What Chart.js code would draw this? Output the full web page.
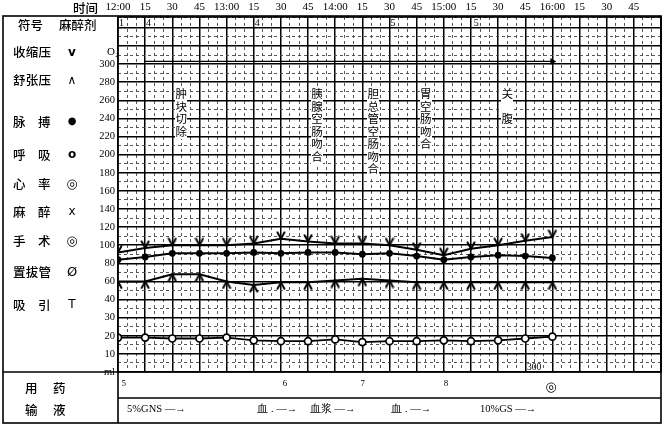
<!DOCTYPE html>
<html lang="zh">
<head>
<meta charset="utf-8">
<title>麻醉记录单</title>
<script src="https://cdn.jsdelivr.net/npm/chart.js@4.4.1/dist/chart.umd.min.js"></script>
<style>
  html, body { margin: 0; padding: 0; background: #fff; }
  #wrap { position: relative; width: 668px; height: 428px; overflow: hidden; }
  #chart { position: absolute; left: 0; top: 0; }
  .t { position: absolute; white-space: nowrap; line-height: 1; color: #000; }
  .cn { font-family: "Noto Sans CJK SC", sans-serif; font-size: 12.5px; font-weight: 500; }
  .num { font-family: "Liberation Serif", "DejaVu Serif", serif; font-size: 10px; }
  .sym { font-family: "DejaVu Sans", sans-serif; font-size: 12px; transform: translateX(-50%); }
  .ev { position: absolute; writing-mode: vertical-rl; text-orientation: upright;
        font-family: "Noto Sans CJK SC", sans-serif; font-size: 11.5px; line-height: 12px;
        letter-spacing: 1px; background: #fff; color: #000; padding: 1px 0; transform: translateX(-50%); }
</style>
</head>
<body>
<div id="wrap">
  <canvas id="chart" width="668" height="428"></canvas>

  <span class="t cn" style="left:73px;top:2px">时间</span>

  <span class="t cn" style="left:18px;top:19px">符号</span>
  <span class="t cn" style="left:59px;top:19px">麻醉剂</span>
  <span class="t cn" style="left:13px;top:46px;letter-spacing:0.3px">收缩压</span>
  <span class="t sym" style="left:72px;top:46px;font-weight:bold">v</span>
  <span class="t cn" style="left:13px;top:74px;letter-spacing:0.3px">舒张压</span>
  <span class="t sym" style="left:72px;top:74px">∧</span>
  <span class="t cn" style="left:13px;top:116px">脉</span>
  <span class="t cn" style="left:38px;top:116px">搏</span>
  <span class="t sym" style="left:72px;top:116px;font-size:10px">●</span>
  <span class="t cn" style="left:13px;top:149px">呼</span>
  <span class="t cn" style="left:38px;top:149px">吸</span>
  <span class="t sym" style="left:72px;top:148px;font-weight:bold">o</span>
  <span class="t cn" style="left:13px;top:178px">心</span>
  <span class="t cn" style="left:38px;top:178px">率</span>
  <span class="t sym" style="left:72px;top:177px;font-size:13px;font-weight:bold">◎</span>
  <span class="t cn" style="left:13px;top:206px">麻</span>
  <span class="t cn" style="left:38px;top:206px">醉</span>
  <span class="t sym" style="left:72px;top:205px">x</span>
  <span class="t cn" style="left:13px;top:235px">手</span>
  <span class="t cn" style="left:38px;top:235px">术</span>
  <span class="t sym" style="left:72px;top:234px;font-size:13px;font-weight:bold">◎</span>
  <span class="t cn" style="left:13px;top:266px;letter-spacing:0.3px">置拔管</span>
  <span class="t sym" style="left:72px;top:265px;font-size:13px">Ø</span>
  <span class="t cn" style="left:13px;top:299px">吸</span>
  <span class="t cn" style="left:38px;top:299px">引</span>
  <span class="t sym" style="left:72px;top:298px">T</span>

  <span class="t num" style="left:107px;top:46px;font-size:11px">O₂</span>

  <span class="t cn" style="left:25px;top:382px">用</span>
  <span class="t cn" style="left:53px;top:382px">药</span>
  <span class="t cn" style="left:25px;top:404px">输</span>
  <span class="t cn" style="left:53px;top:404px">液</span>
</div>

<script>
// minutes after 12:00, one reading every 15 min
const minutes = [0, 15, 30, 45, 60, 75, 90, 105, 120, 135, 150, 165, 180, 195, 210, 225, 240];
const systolic = [92, 97, 100, 100, 100, 102, 107, 104, 102, 102, 100, 95, 89, 96, 100, 105, 109];
const diastolic = [60, 60, 68, 68, 60, 56, 59, 59, 61, 63, 61, 59, 59, 59, 59, 59, 59];
const pulse = [84, 87, 91, 91, 91, 92, 91, 92, 92, 90, 91, 88, 84, 87, 89, 88, 86];
const respiration = [19, 19, 18.5, 18.5, 19, 17.5, 17, 17, 18, 16.5, 17, 17, 17.5, 17, 17.5, 18.5, 19.5];

// oxygen line
const oxygenMinutes = [15, 240];
const oxygenLevel = 303;

const timeTickLabels = ['12:00', '15', '30', '45', '13:00', '15', '30', '45', '14:00', '15', '30', '45',
  '15:00', '15', '30', '45', '16:00', '15', '30', '45'];
// left scale, one label per heavy row from 300 down
const scaleTickLabels = ['300', '280', '260', '240', '220', '200', '180', '160', '140', '120', '100',
  '80', '60', '40', '30', '20', '10', 'ml'];

const eventLabels = ['肿块切除', '胰腺空肠吻合', '胆总管空肠吻合', '胃空肠吻合', '关　腹'];
const eventMinutes = [35, 110, 141, 170, 215];

const agentMarks = ['1', '4', '4', '5', '5'];
const agentMinutes = [0.5, 15.5, 75.5, 150.5, 196.5];

const drugMarks = ['5', '6', '7', '8', '◎'];
const drugMinutes = [2, 91, 134, 180, 236];

const infusionLabels = ['5%GNS —→', '血 . —→', '血浆 —→', '血 . —→', '10%GS —→'];
const infusionMinutes = [5, 77, 106, 151, 200];

const serif = '"Liberation Serif", "DejaVu Serif", serif';

function makeMarker(draw) {
  const c = document.createElement('canvas');
  c.width = 10;
  c.height = 16;
  const g = c.getContext('2d');
  g.strokeStyle = '#000';
  g.lineWidth = 2;
  g.lineCap = 'round';
  g.beginPath();
  draw(g);
  g.stroke();
  return c;
}
const vMark = makeMarker(g => { g.moveTo(1.5, 1.5); g.lineTo(5, 8); g.lineTo(8.5, 1.5); });
const aMark = makeMarker(g => { g.moveTo(1.5, 14.5); g.lineTo(5, 8); g.lineTo(8.5, 14.5); });

const pts = (vals) => minutes.map((m, i) => ({ x: m, y: vals[i] }));

const framePlugin = {
  id: 'frame',
  afterDraw(chart) {
    const { ctx, chartArea: a } = chart;
    ctx.save();
    ctx.strokeStyle = '#000';
    ctx.lineWidth = 1.6;
    ctx.strokeRect(a.left, a.top, a.right - a.left, a.bottom - a.top);
    ctx.strokeRect(3, 16, a.right - 3, 423 - 16);
    ctx.beginPath();
    ctx.moveTo(3, a.bottom); ctx.lineTo(a.left, a.bottom);
    ctx.moveTo(a.left, a.bottom); ctx.lineTo(a.left, 423);
    ctx.moveTo(a.left, 398); ctx.lineTo(a.right, 398);
    ctx.stroke();
    ctx.restore();
  }
};

const chart = new Chart(document.getElementById('chart'), {
  type: 'line',
  data: {
    datasets: [
      {
        data: pts(systolic),
        borderColor: '#000', borderWidth: 2,
        pointStyle: vMark, pointRadius: 4
      },
      {
        data: pts(diastolic),
        borderColor: '#000', borderWidth: 2,
        pointStyle: aMark, pointRadius: 4
      },
      {
        data: pts(pulse),
        borderColor: '#000', borderWidth: 2,
        pointStyle: 'circle', pointRadius: 3.4, pointBackgroundColor: '#000', pointBorderWidth: 0
      },
      {
        data: pts(respiration),
        yAxisID: 'yResp',
        borderColor: '#000', borderWidth: 1.8,
        pointStyle: 'circle', pointRadius: 3.5, pointBackgroundColor: '#fff',
        pointBorderColor: '#000', pointBorderWidth: 1.7
      },
      {
        data: oxygenMinutes.map(m => ({ x: m, y: oxygenLevel })),
        borderColor: '#000', borderWidth: 1.4,
        pointStyle: 'triangle', pointRadius: [0, 4], pointRotation: 90,
        pointBackgroundColor: '#000', pointBorderWidth: 0
      }
    ]
  },
  options: {
    responsive: false,
    animation: false,
    events: [],
    layout: { padding: { left: 0, top: 0, right: 7, bottom: 56 } },
    elements: { line: { tension: 0 } },
    plugins: { legend: { display: false }, tooltip: { enabled: false } },
    scales: {
      x: {
        type: 'linear',
        position: 'top',
        min: 0, max: 300,
        afterFit: (s) => { s.height = 17; },
        ticks: {
          stepSize: 5, autoSkip: false, maxRotation: 0, padding: 3,
          color: '#000', font: { family: serif, size: 11 },
          callback: (v) => v % 15 === 0 ? (timeTickLabels[v / 15] || '') : ''
        },
        grid: {
          drawTicks: false,
          color: (c) => c.tick.value % 15 === 0 ? '#000' : '#444',
          lineWidth: (c) => c.tick.value % 15 === 0 ? 1.5 : 0.9
        },
        border: { display: false, dash: (c) => c.tick && c.tick.value % 15 === 0 ? [] : [3, 3] }
      },
      y: {
        type: 'linear',
        min: -40, max: 352,
        afterFit: (s) => { s.width = 118; },
        ticks: {
          stepSize: 10, autoSkip: false, padding: 3,
          color: '#000', font: { family: serif, size: 10.5 },
          callback: (v) => (v % 20 === 0 && v <= 300) ? scaleTickLabels[(300 - v) / 20] : ''
        },
        grid: {
          drawTicks: false,
          color: (c) => c.tick.value % 20 === 0 ? '#000' : '#444',
          lineWidth: (c) => c.tick.value % 20 === 0 ? 1.5 : 0.9
        },
        border: { display: false, dash: (c) => c.tick && c.tick.value % 20 === 0 ? [] : [3, 3] }
      },
      yResp: { type: 'linear', display: false, min: 0, max: 196 }
    }
  },
  plugins: [framePlugin]
});

// text placed along the time scale
const wrap = document.getElementById('wrap');
const xs = chart.scales.x;
function addText(text, cls, left, top, style) {
  const s = document.createElement('span');
  s.className = cls;
  s.textContent = text;
  s.style.left = left + 'px';
  s.style.top = top + 'px';
  if (style) s.style.cssText += style;
  wrap.appendChild(s);
  return s;
}
eventLabels.forEach((txt, i) => addText(txt, 'ev', xs.getPixelForValue(eventMinutes[i]), 87));
agentMarks.forEach((txt, i) => addText(txt, 't num', xs.getPixelForValue(agentMinutes[i]), 18));
drugMarks.forEach((txt, i) => addText(txt, 't num', xs.getPixelForValue(drugMinutes[i]), i === 4 ? 380 : 379,
  i === 4 ? 'font-family:"DejaVu Sans";font-size:13px;font-weight:bold' : 'font-size:9px'));
infusionLabels.forEach((txt, i) => addText(txt, 't num', xs.getPixelForValue(infusionMinutes[i]), 404,
  'font-size:10.5px'));
addText('300', 't num', xs.getPixelForValue(226), 363, 'font-size:9.5px');
</script>
</body>
</html>
